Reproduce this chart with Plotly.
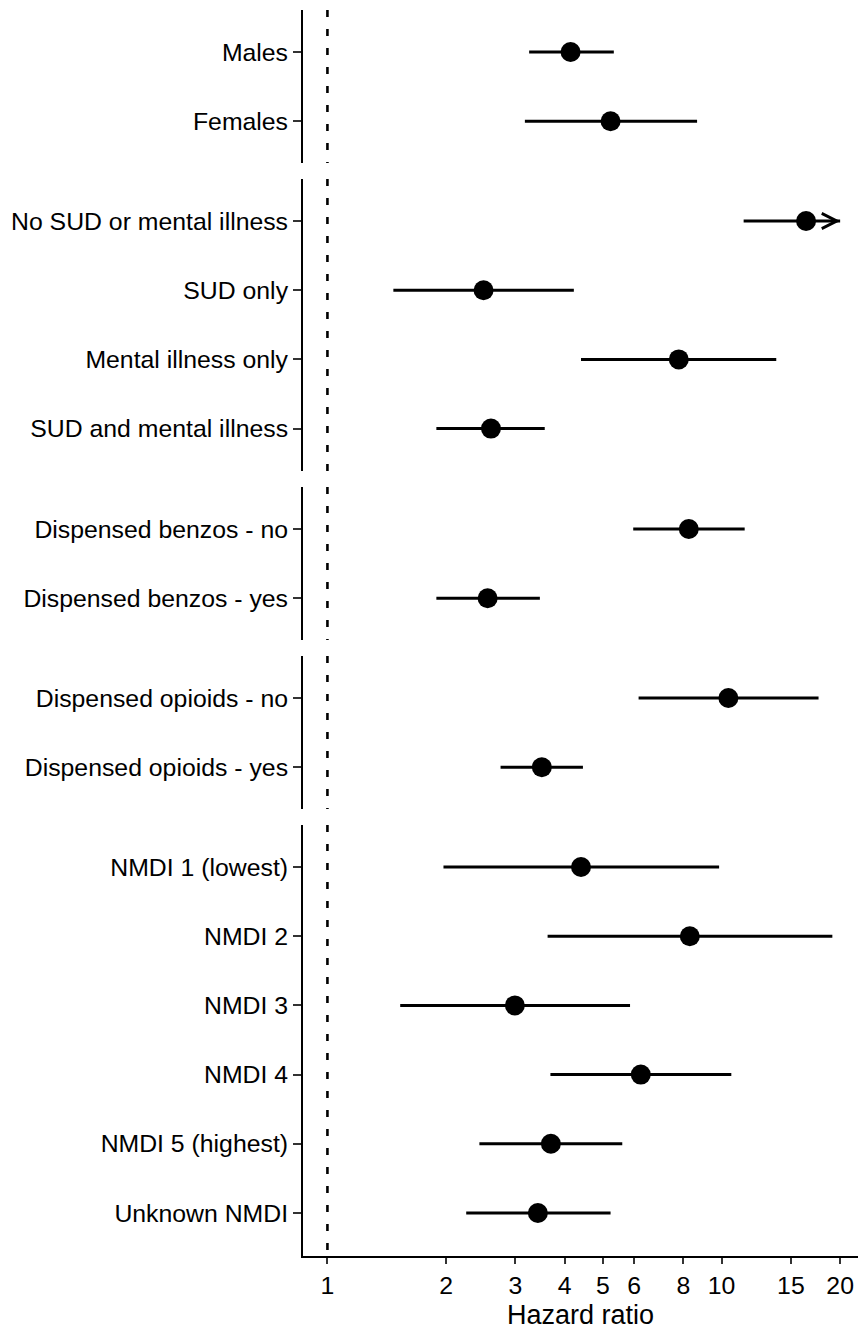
import math
import plotly.graph_objects as go

# ---------------- data ----------------
groups = [
    ["Males", "Females"],
    ["No SUD or mental illness", "SUD only", "Mental illness only", "SUD and mental illness"],
    ["Dispensed benzos - no", "Dispensed benzos - yes"],
    ["Dispensed opioids - no", "Dispensed opioids - yes"],
    ["NMDI 1 (lowest)", "NMDI 2", "NMDI 3", "NMDI 4", "NMDI 5 (highest)", "Unknown NMDI"],
]
hr = [
    [4.14, 5.23],
    [16.39, 2.49, 7.79, 2.60],
    [8.26, 2.55],
    [10.41, 3.50],
    [4.40, 8.31, 2.99, 6.24, 3.69, 3.42],
]
ci_low = [
    [3.25, 3.17],
    [11.38, 1.47, 4.40, 1.89],
    [5.97, 1.89],
    [6.16, 2.75],
    [1.97, 3.62, 1.53, 3.68, 2.43, 2.25],
]
ci_high = [
    [5.33, 8.67],
    [20.0, 4.22, 13.77, 3.56],
    [11.45, 3.46],
    [17.63, 4.45],
    [9.86, 19.11, 5.86, 10.59, 5.60, 5.23],
]
# upper CI beyond the axis limit (drawn with an arrow)
truncated = [
    [False, False],
    [True, False, False, False],
    [False, False],
    [False, False],
    [False, False, False, False, False, False],
]
x_ticks = [1, 2, 3, 4, 5, 6, 8, 10, 15, 20]
x_label = "Hazard ratio"

# ---------------- layout constants ----------------
W, H = 858, 1329
M_L, M_R, M_T, M_B = 303, 0, 10, 73
PLOT_H = H - M_T - M_B
# panel pixel bounds (top, bottom, first-row centre)
panel_px = [(10, 163, 52), (179, 471, 221), (487, 640, 529), (656, 809, 698), (825, 1256, 867)]
ROW_STEP = 69.2
X_RANGE = [math.log10(0.867), math.log10(22.2)]
FONT = "Liberation Sans, Arial, sans-serif"

fig = go.Figure()
n_panels = len(groups)

for k in range(n_panels):
    sfx = "" if k == 0 else str(k + 1)
    xa, ya = "x" + sfx, "y" + sfx
    top_px, bot_px, row0_px = panel_px[k]
    y_top = (row0_px - top_px) / ROW_STEP
    y_bot = -(bot_px - row0_px) / ROW_STEP
    ys = [-i for i in range(len(groups[k]))]

    # reference line at HR = 1
    fig.add_trace(go.Scatter(
        x=[1, 1], y=[y_top, y_bot], mode="lines",
        line=dict(color="black", width=2.6, dash="7px,12px"),
        xaxis=xa, yaxis=ya, hoverinfo="skip", showlegend=False))

    # estimates with CIs
    fig.add_trace(go.Scatter(
        x=hr[k], y=ys, mode="markers",
        marker=dict(color="black", size=20, line=dict(width=0)),
        error_x=dict(type="data", symmetric=False,
                     array=[h - e for h, e in zip(ci_high[k], hr[k])],
                     arrayminus=[e - l for e, l in zip(hr[k], ci_low[k])],
                     width=0, thickness=3, color="black"),
        xaxis=xa, yaxis=ya, showlegend=False,
        customdata=list(zip(ci_low[k], ci_high[k])),
        hovertemplate="%{x:.2f} (%{customdata[0]:.2f}-%{customdata[1]:.2f})<extra></extra>"))

    # arrows for truncated CIs
    for i, t in enumerate(truncated[k]):
        if t:
            fig.add_annotation(
                x=math.log10(ci_high[k][i]), y=ys[i],
                ax=math.log10(ci_high[k][i] * 0.93), ay=ys[i],
                xref=xa, yref=ya, axref=xa, ayref=ya,
                showarrow=True, arrowhead=5, arrowsize=1.35, arrowwidth=2.2,
                arrowcolor="black", text="", standoff=0)

    dom = [(H - M_B - bot_px) / PLOT_H, (H - M_B - top_px) / PLOT_H]
    dom = [max(0.0, min(1.0, d)) for d in dom]
    yaxis_cfg = dict(
        domain=dom, range=[y_bot, y_top], anchor=xa,
        tickvals=ys, ticktext=groups[k],
        showline=True, linewidth=2, linecolor="black",
        ticks="outside", ticklen=8, tickwidth=1.5, tickcolor="#333333",
        tickfont=dict(family=FONT, size=24.8, color="black"),
        showgrid=False, zeroline=False, automargin=False, fixedrange=True)
    is_bottom = (k == n_panels - 1)
    xaxis_cfg = dict(
        type="log", range=X_RANGE, anchor=ya, domain=[0, 1],
        showgrid=False, zeroline=False, automargin=False, fixedrange=True,
        visible=is_bottom)
    if is_bottom:
        xaxis_cfg.update(
            tickvals=x_ticks, ticktext=[str(v) for v in x_ticks],
            showline=True, linewidth=2, linecolor="black",
            ticks="outside", ticklen=6, tickwidth=1.5, tickcolor="#333333",
            tickfont=dict(family=FONT, size=24.8, color="black"))
    fig.update_layout({"xaxis" + sfx: xaxis_cfg, "yaxis" + sfx: yaxis_cfg})

fig.add_annotation(
    text=x_label, xref="paper", yref="paper", x=0.5, y=0,
    xanchor="center", yanchor="top", yshift=-42, showarrow=False,
    font=dict(family=FONT, size=27, color="black"))

fig.update_layout(
    width=W, height=H, template="none",
    margin=dict(l=M_L, r=M_R, t=M_T, b=M_B, pad=0),
    paper_bgcolor="white", plot_bgcolor="white",
    showlegend=False)

fig.write_html("out.html", include_plotlyjs=True, full_html=True,
               config={"displayModeBar": False})
